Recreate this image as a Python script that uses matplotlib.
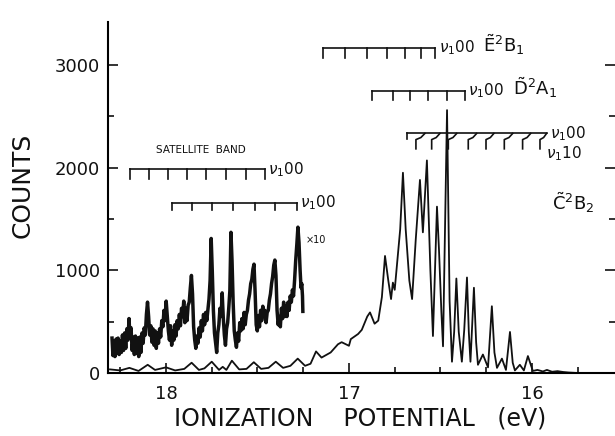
import matplotlib
matplotlib.use("Agg")
import matplotlib.pyplot as plt
from matplotlib.ticker import MultipleLocator

plt.rcParams['font.family'] = ['DejaVu Sans']
plt.rcParams['mathtext.fontset'] = 'dejavusans'

# main spectrum (eV, counts)
main_ev = [18.306, 18.25, 18.20, 18.15, 18.10, 18.06, 18.00, 17.95, 17.90, 17.86,
           17.82, 17.79, 17.75, 17.71, 17.69, 17.67, 17.64, 17.60, 17.56, 17.52,
           17.48, 17.44, 17.40, 17.36, 17.32, 17.28, 17.24, 17.21, 17.18, 17.15,
           17.10, 17.06, 17.04, 17.00, 16.99, 16.95, 16.93, 16.90, 16.885, 16.86,
           16.84, 16.82, 16.803, 16.785, 16.77, 16.76, 16.75, 16.72, 16.705, 16.69,
           16.67, 16.655, 16.635, 16.612, 16.596, 16.574, 16.555, 16.541, 16.519, 16.508,
           16.495, 16.486, 16.464, 16.45, 16.437, 16.425, 16.413, 16.40, 16.383, 16.37,
           16.355, 16.345, 16.336, 16.317, 16.305, 16.295, 16.268, 16.24, 16.219, 16.205,
           16.191, 16.164, 16.142, 16.12, 16.105, 16.093, 16.066, 16.044, 16.022, 15.995,
           15.97, 15.94, 15.918, 15.89, 15.86, 15.83, 15.80, 15.75, 15.55]
main_counts = [35, 25, 50, 20, 80, 30, 55, 25, 40, 100,
               30, 45, 110, 30, 60, 30, 120, 35, 40, 105,
               40, 50, 110, 50, 70, 140, 70, 90, 210, 150,
               200, 280, 300, 265, 330, 380, 420, 550, 590, 480,
               510, 740, 1140, 900, 720, 880, 810, 1400, 1950, 1400,
               900, 720, 1300, 1880, 1370, 2070, 1000, 360, 1620, 1200,
               600, 260, 2560, 700, 110, 400, 920, 400, 110, 420,
               930, 400, 110, 830, 300, 80, 180, 55, 650, 200,
               50, 140, 30, 400, 100, 25, 80, 25, 165, 20,
               30, 15, 30, 12, 18, 10, 5, 0, 0]

# x10 satellite trace (eV, counts)
sat_ev = [18.295, 18.290, 18.284, 18.279, 18.273, 18.268, 18.262, 18.256, 18.250, 18.244,
          18.238, 18.232, 18.226, 18.220, 18.214, 18.208, 18.202, 18.197, 18.191, 18.185,
          18.179, 18.173, 18.167, 18.161, 18.155, 18.149, 18.143, 18.137, 18.131, 18.125,
          18.119, 18.113, 18.107, 18.101, 18.095, 18.089, 18.083, 18.077, 18.071, 18.065,
          18.059, 18.053, 18.047, 18.041, 18.035, 18.029, 18.023, 18.017, 18.011, 18.005,
          17.999, 17.993, 17.987, 17.981, 17.975, 17.969, 17.963, 17.957, 17.951, 17.945,
          17.939, 17.933, 17.927, 17.921, 17.915, 17.909, 17.903, 17.897, 17.891, 17.885,
          17.879, 17.873, 17.867, 17.861, 17.855, 17.849, 17.843, 17.837, 17.831, 17.825,
          17.819, 17.813, 17.807, 17.801, 17.795, 17.789, 17.783, 17.777, 17.771, 17.765,
          17.759, 17.753, 17.747, 17.741, 17.735, 17.729, 17.723, 17.717, 17.711, 17.705,
          17.699, 17.693, 17.687, 17.681, 17.675, 17.669, 17.663, 17.657, 17.651, 17.645,
          17.639, 17.633, 17.627, 17.621, 17.615, 17.609, 17.603, 17.597, 17.591, 17.585,
          17.579, 17.573, 17.567, 17.561, 17.555, 17.549, 17.543, 17.537, 17.531, 17.525,
          17.519, 17.513, 17.507, 17.501, 17.495, 17.489, 17.483, 17.477, 17.471, 17.465,
          17.459, 17.453, 17.447, 17.441, 17.435, 17.429, 17.423, 17.417, 17.411, 17.405,
          17.399, 17.393, 17.387, 17.381, 17.375, 17.369, 17.363, 17.357, 17.351, 17.345,
          17.339, 17.333, 17.327, 17.321, 17.315, 17.309, 17.303, 17.297, 17.291, 17.285,
          17.279, 17.273, 17.267, 17.262, 17.258, 17.254, 17.252]
sat_counts = [340, 170, 310, 160, 330, 190, 340, 180, 310, 200,
              370, 220, 390, 240, 430, 320, 530, 350, 440, 220,
              350, 180, 360, 190, 340, 160, 350, 200, 390, 290,
              440, 370, 570, 690, 550, 370, 460, 300, 430, 270,
              410, 240, 390, 290, 430, 350, 510, 450, 610, 510,
              700, 550, 410, 320, 460, 270, 410, 320, 470, 360,
              510, 430, 570, 460, 630, 550, 700, 490, 630, 510,
              660, 690, 830, 950, 770, 450, 320, 240, 360, 290,
              440, 350, 510, 410, 570, 470, 590, 510, 610, 720,
              900, 1310, 990, 610, 390, 290, 200, 390, 470, 630,
              550, 780, 540, 370, 270, 430, 490, 630, 800, 1370,
              1090, 690, 410, 320, 250, 390, 310, 490, 410, 530,
              430, 590, 470, 570, 610, 710, 770, 870, 910, 1010,
              1060, 790, 470, 410, 560, 450, 610, 510, 650, 550,
              610, 490, 590, 610, 710, 770, 870, 940, 1050, 1100,
              950, 610, 470, 550, 450, 630, 530, 690, 550, 650,
              550, 690, 610, 750, 690, 810, 750, 910, 1100, 1250,
              1420, 1270, 1000, 830, 870, 750, 600]

# progression combs: line start, tick positions, line height (counts)
e_ticks = [17.022, 16.903, 16.794, 16.694, 16.608, 16.530]
e_start, e_y = 17.142, 3165
d_ticks = [16.758, 16.667, 16.567, 16.466, 16.366]
d_start, d_y = 16.874, 2749
c_ticks00 = [16.585, 16.503, 16.411, 16.302, 16.208, 16.105, 16.007, 15.920]
c_ticks10 = [16.634, 16.548, 16.457, 16.348, 16.251, 16.151, 16.051, 15.956]
c_start, c_y = 16.683, 2333
sat1_ticks = [18.197, 18.093, 17.989, 17.885, 17.781, 17.672, 17.563, 17.459]
sat1_y = 1984
sat2_ticks = [17.969, 17.860, 17.750, 17.636, 17.514, 17.404, 17.286]
sat2_y = 1655

ink = '#111111'

fig = plt.figure(figsize=(6.15, 4.36), dpi=100)
ax = fig.add_axes([0.1756, 0.1445, 0.8244, 0.805])

ax.plot(main_ev, main_counts, color=ink, lw=1.3, solid_joinstyle='round')
ax.plot(sat_ev, sat_counts, color=ink, lw=2.5, solid_joinstyle='round')


def comb(start, ticks, y, depth, label, lx, ly):
    ax.plot([start, ticks[-1]], [y, y], color=ink, lw=1.2)
    for t in [start] + ticks:
        ax.plot([t, t], [y, y - depth], color=ink, lw=1.2)
    if label:
        ax.text(lx, ly, label, fontsize=11, va='center', ha='left', color=ink)


comb(e_start, e_ticks, e_y, 95, r'$\nu_1$00', 16.51, e_y)
ax.text(16.27, e_y + 30, r'$\tilde{\mathrm{E}}^2\mathrm{B}_1$', fontsize=13, va='center', color=ink)
comb(d_start, d_ticks, d_y, 95, r'$\nu_1$00', 16.35, d_y)
ax.text(16.105, d_y + 30, r'$\tilde{\mathrm{D}}^2\mathrm{A}_1$', fontsize=13, va='center', color=ink)

# C band: 00 line with hooked 10 markers
ax.plot([c_start, c_ticks00[-1]], [c_y, c_y], color=ink, lw=1.2)
ax.plot([c_start, c_start], [c_y, c_y - 50], color=ink, lw=1.2)
for t0, t1 in zip(c_ticks00, c_ticks10):
    ax.plot([t0, t0 + (t1 - t0) * 0.45, t1, t1],
            [c_y, c_y - 40, c_y - 60, c_y - 150], color=ink, lw=1.2)
ax.text(15.90, c_y, r'$\nu_1$00', fontsize=11, va='center', color=ink)
ax.text(15.925, c_y - 200, r'$\nu_1$10', fontsize=11, va='center', color=ink)
ax.text(15.89, 1660, r'$\tilde{\mathrm{C}}^2\mathrm{B}_2$', fontsize=13, va='center', color=ink)

comb(sat1_ticks[0], sat1_ticks[1:], sat1_y, 90, r'$\nu_1$00', 17.445, sat1_y)
comb(sat2_ticks[0], sat2_ticks[1:], sat2_y, 70, r'$\nu_1$00', 17.27, sat2_y)
ax.text(17.81, 2168, 'SATELLITE  BAND', fontsize=7.5, ha='center', va='center', color=ink)
ax.text(17.235, 1297, '×10', fontsize=7, ha='left', va='center', color=ink)

ax.set_xlim(18.317, 15.546)
ax.set_ylim(0, 3418)
ax.xaxis.set_major_locator(MultipleLocator(1))
ax.xaxis.set_minor_locator(MultipleLocator(0.25))
ax.yaxis.set_major_locator(MultipleLocator(1000))
ax.yaxis.set_minor_locator(MultipleLocator(500))
ax.spines['top'].set_visible(False)
ax.spines['right'].set_visible(False)
for s in ('left', 'bottom'):
    ax.spines[s].set_linewidth(1.5)
ax.tick_params(which='both', direction='in', right=True, width=1.2, labelsize=13, colors=ink)
ax.tick_params(which='major', length=7)
ax.tick_params(which='minor', length=4)
ax.tick_params(axis='x', pad=9)
ax.tick_params(axis='y', pad=6)

fig.text(23 / 615, 1 - 185 / 436, 'COUNTS', rotation=90, fontsize=18,
         ha='center', va='center', color=ink)
fig.text(360 / 615, 1 - 418 / 436, 'IONIZATION    POTENTIAL   (eV)', fontsize=17,
         ha='center', va='center', color=ink)

fig.savefig('out.png', dpi=100)
